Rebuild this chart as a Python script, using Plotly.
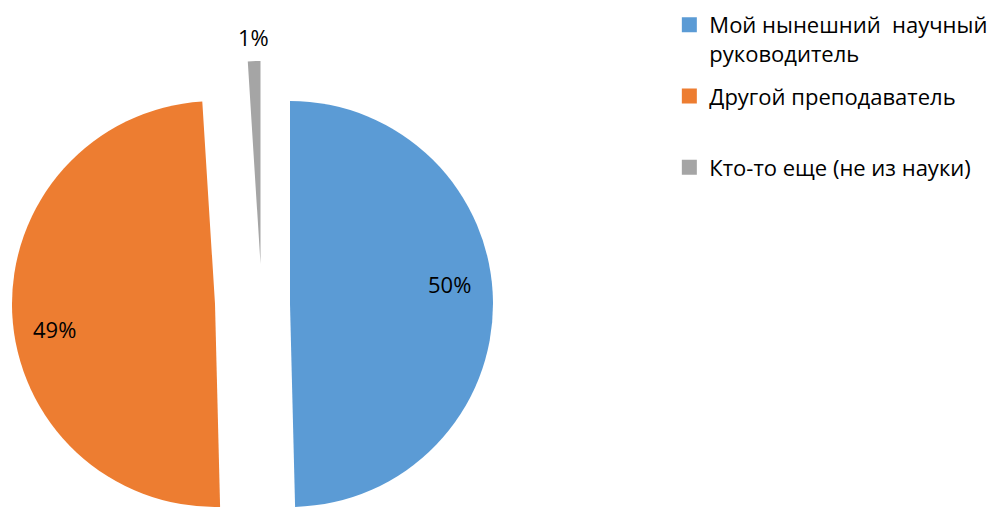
import plotly.graph_objects as go

# %% Data

labels = ["Мой нынешний  научный руководитель", "Другой преподаватель", "Кто-то еще (не из науки)"]
legend_text = ["Мой нынешний  научный<br>руководитель", "Другой преподаватель<br>\u00a0",
               "Кто-то еще (не из науки)<br>\u00a0"]
values = [49.6, 49.4, 1.0]
colors = ["#5B9BD5", "#ED7D31", "#A5A5A5"]

# %% Layout helpers

# the page body has an 8px margin, so the figure is drawn 8px smaller
W, H = 993, 499
R = 203  # slice radius in px
# centre of each exploded slice (px, from top-left of the figure)
centres = [(282, 296), (207, 296), (252.5, 256)]
# where each percentage label sits (px)
label_pos = [(441.7, 276), (46, 320.5), (245.5, 29)]

FONT = "Open Sans"

def domain_for(cx, cy, r=R):
    x0, x1 = (cx - r) / W, (cx + r) / W
    y0, y1 = (H - cy - r) / H, (H - cy + r) / H
    return dict(x=[max(x0, 0), min(x1, 1)], y=[max(y0, 0), min(y1, 1)])

fig = go.Figure()

# one pie per slice, so each slice can be shifted on its own
for i, (cx, cy) in enumerate(centres):
    slice_cols = ["rgba(0,0,0,0)"] * len(values)
    slice_cols[i] = colors[i]
    fig.add_trace(go.Pie(
        labels=labels, values=values, sort=False, direction="clockwise", rotation=0,
        marker=dict(colors=slice_cols, line=dict(width=0)),
        textinfo="none", domain=domain_for(cx, cy), showlegend=False, hoverinfo="skip",
    ))

# percentage labels
total = sum(values)
for v, (px_, py_) in zip(values, label_pos):
    fig.add_annotation(
        x=px_ / W, y=1 - py_ / H, xref="paper", yref="paper",
        text=f"{round(100 * v / total)}%", showarrow=False,
        xanchor="center", yanchor="middle",
        font=dict(family=FONT, size=22, color="#000000"),
    )

# legend entries
for i, (name, col) in enumerate(zip(legend_text, colors)):
    fig.add_trace(go.Scatter(
        x=[None], y=[None], mode="markers", name=name, legendgroup=f"g{i}",
        marker=dict(symbol="square", size=15, color=col),
    ))

fig.update_layout(
    width=W, height=H,
    margin=dict(l=0, r=0, t=0, b=0, autoexpand=False),
    paper_bgcolor="white", plot_bgcolor="white",
    xaxis=dict(visible=False), yaxis=dict(visible=False),
    legend=dict(x=0.666, xanchor="left", y=1.008, yanchor="top", valign="top",
                font=dict(family=FONT, size=22, color="#000000"),
                bgcolor="rgba(0,0,0,0)", tracegroupgap=11),
)

fig.write_html("out.html")
